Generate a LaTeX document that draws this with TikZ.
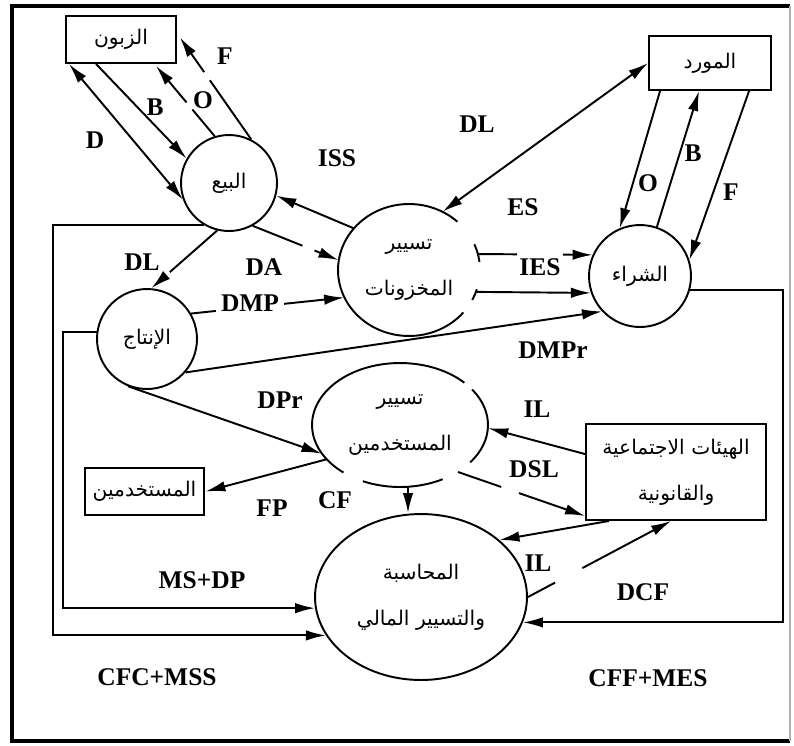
\documentclass[tikz,border=0pt]{standalone}
\usepackage{fontspec}
\setmainfont{Liberation Serif}
\newfontfamily\arabicfont[Script=Arabic]{DejaVu Sans}
\TeXXeTstate=1
\usetikzlibrary{shapes.geometric,arrows.meta,calc}
\newcommand{\artx}[1]{\beginR #1\endR}
\begin{document}
\begin{tikzpicture}[x=0.02cm,y=-0.02cm,
  lbl/.style={font=\fontsize{14.5}{16}\selectfont\bfseries, inner sep=1pt},
  ln/.style={line width=1.1pt},
  tip/.tip={Latex[length=4mm,width=2.1mm]},
  arr/.style={line width=1.1pt,-tip},
  darr/.style={line width=1.1pt,tip-tip},
  arfont/.style={font=\arabicfont\fontsize{11.5}{26}\selectfont},
  boxn/.style={draw,line width=1.1pt,rectangle,inner sep=0pt,arfont,align=center},
  circn/.style={draw,line width=1.1pt,circle,inner sep=0pt,arfont,align=center},
  ellgap/.style={ellipse,inner sep=0pt,arfont,align=center},
]
\useasboundingbox (0,0) rectangle (794,745);
% frame
\draw[line width=2.3pt] (790,6) -- (12,6) -- (12,741) -- (790,741);
\draw[line width=0.6pt,gray!60] (790,6) -- (790,741);

% nodes
\node[boxn,minimum width=2.2cm,minimum height=0.94cm] (cust) at (121,39.5) {\artx{الزبون}};
\node[boxn,minimum width=2.44cm,minimum height=1.08cm] (sup) at (710,63) {\artx{المورد}};
\node[boxn,line width=1.6pt,minimum width=2.38cm,minimum height=0.94cm] (emp) at (144.5,491.5) {\artx{المستخدمين}};
\node[boxn,minimum width=3.6cm,minimum height=1.92cm] (legal) at (676,472) {\artx{الهيئات الاجتماعية}\\\artx{والقانونية}};
\node[circn,minimum size=1.92cm] (sales) at (229,183) {\artx{البيع}};
\node[circn,minimum size=2.04cm] (pur) at (640,276) {\artx{الشراء}};
\node[circn,minimum size=2.0cm] (prod) at (147,339) {\artx{الإنتاج}};
\node[ellgap,minimum width=2.84cm,minimum height=2.64cm] (stock) at (409,270) {\artx{تسيير}\\\artx{المخزونات}};
\node[ellgap,minimum width=3.52cm,minimum height=2.48cm] (pers) at (400,425) {\artx{تسيير}\\\artx{المستخدمين}};
\node[ellipse,draw,line width=1.1pt,inner sep=0pt,arfont,align=center,minimum width=4.24cm,minimum height=3.32cm] (acc) at (421,597) {\artx{المحاسبة}\\\artx{والتسيير المالي}};

% broken outlines
\draw[ln] ([shift={(47:1.42cm and 1.32cm)}]stock.center) arc[start angle=47,end angle=320,x radius=1.42cm,y radius=1.32cm];
\draw[ln] ([shift={(333:1.42cm and 1.32cm)}]stock.center) arc[start angle=333,end angle=343,x radius=1.42cm,y radius=1.32cm];
\draw[ln] ([shift={(7:1.42cm and 1.32cm)}]stock.center) arc[start angle=7,end angle=23,x radius=1.42cm,y radius=1.32cm];
\draw[ln] ([shift={(43:1.76cm and 1.24cm)}]pers.center) arc[start angle=43,end angle=230,x radius=1.76cm,y radius=1.24cm];
\draw[ln] ([shift={(245:1.76cm and 1.24cm)}]pers.center) arc[start angle=245,end angle=299,x radius=1.76cm,y radius=1.24cm];
\draw[ln] ([shift={(323:1.76cm and 1.24cm)}]pers.center) arc[start angle=323,end angle=395,x radius=1.76cm,y radius=1.24cm];

% free ends
\coordinate (rx) at (783,0);
\coordinate (lxa) at (63,0);
\coordinate (lxb) at (53,0);

% customer <-> sales
\draw[darr] ($(cust.south west)+(4,0)$) -- (sales.200);
\draw[arr] ($(cust.south west)+(31,0)$) -- (sales.150);
\draw[ln] (sales.107) -- ($(sales.107)!0.38!($(cust.south west)+(91,2)$)$);
\draw[arr] ($(sales.107)!0.48!($(cust.south west)+(91,2)$)$) -- ($(cust.south west)+(91,2)$);
\draw[ln] (sales.63) -- ($(sales.63)!0.58!($(cust.east)+(3,-2)$)$);
\draw[arr] ($(sales.63)!0.66!($(cust.east)+(3,-2)$)$) -- ($(cust.east)+(3,-2)$);

% sales <-> stock, production
\draw[arr] (stock.143) -- (sales.-15);
\draw[ln] (sales.-61) -- ($(sales.-61)!0.58!(stock.172)$);
\draw[arr] ($(sales.-61)!0.72!(stock.172)$) -- (stock.172);
\draw[ln] (sales.-104) -- ($(sales.-104)!0.72!(prod.85)$);
\draw[arr] ($(sales.-104)!0.8!(prod.85)$) -- (prod.85);

% stock <-> supplier, purchase
\draw[darr] (stock.60) -- (sup.west);
\draw[ln] (stock.13) -- ($(stock.13)!0.34!(pur.156)$);
\draw[arr] ($(stock.13)!0.74!(pur.156)$) -- (pur.156);
\draw[arr] (stock.-18) -- (pur.199);

% supplier <-> purchase
\draw[arr] ($(sup.south west)+(12,0)$) -- (pur.113);
\draw[arr] (pur.71) -- ($(sup.south west)+(51,0)$);
\draw[arr] ($(sup.south west)+(101,0)$) -- (pur.18);

% production
\draw[arr] (prod.-41) -- (pur.223);
\draw[arr] (prod.30) -- (stock.203);
\draw[arr] (prod.-112) -- (pers.200);

% personnel
\draw[arr] (pers.205) -- (emp.east);
\draw[arr] ([xshift=0.16cm]pers.south) -- ([xshift=0.16cm]pers.south |- acc.north);
\draw[arr] ($(legal.north west)+(0,31)$) -- (pers.-2);
\draw[ln] (pers.-39) -- ($(pers.-39)!0.34!($(legal.south west)+(0,-5)$)$);
\draw[arr] ($(pers.-39)!0.48!($(legal.south west)+(0,-5)$)$) -- ($(legal.south west)+(0,-5)$);

% legal <-> accounting
\draw[arr] ($(legal.south west)+(24,0)$) -- (acc.36);
\draw[ln] (acc.0) -- ($(acc.0)!0.19!($(legal.south west)+(86,0)$)$);
\draw[arr] ($(acc.0)!0.38!($(legal.south west)+(86,0)$)$) -- ($(legal.south west)+(86,0)$);

% long loops into accounting
\draw[arr] (pur.-16) -- (pur.-16 -| rx) -- (rx |- acc.-14) -- (acc.-14);
\draw[arr] (prod.172) -- (prod.172 -| lxa) -- (lxa |- acc.186) -- (acc.186);
\draw[arr] (sales.-121) -- (sales.-121 -| lxb) -- (lxb |- acc.202) -- (acc.202);

% labels
\node[lbl] (lD) at (95,140) {D};
\node[lbl] (lB) at (155,107) {B};
\node[lbl] (lO) at (203,100) {O};
\node[lbl] (lF) at (225,56) {F};
\node[lbl] (lISS) at (337,158) {ISS};
\node[lbl] (lDL) at (142,262) {DL};
\node[lbl] (lDA) at (264,267) {DA};
\node[lbl,fill=white,inner xsep=3pt] (lDMP) at (250,303) {DMP};
\node[lbl] (lDLb) at (477,124) {DL};
\node[lbl] (lES) at (523,207) {ES};
\node[lbl] (lIES) at (540,267) {IES};
\node[lbl] (lO2) at (648,183) {O};
\node[lbl] (lB2) at (693,153) {B};
\node[lbl] (lF2) at (731,192) {F};
\node[lbl] (lDMPr) at (553,350) {DMPr};
\node[lbl] (lDPr) at (280,400) {DPr};
\node[lbl] (lIL) at (537,409) {IL};
\node[lbl] (lDSL) at (534,469) {DSL};
\node[lbl] (lCF) at (335,500) {CF};
\node[lbl] (lFP) at (272,508) {FP};
\node[lbl] (lIL2) at (538,563) {IL};
\node[lbl] (lDCF) at (643,592) {DCF};
\node[lbl] (lMSDP) at (202,580) {MS+DP};
\node[lbl] (lCFC) at (157,677) {CFC+MSS};
\node[lbl] (lCFF) at (648,678) {CFF+MES};
\end{tikzpicture}
\end{document}
